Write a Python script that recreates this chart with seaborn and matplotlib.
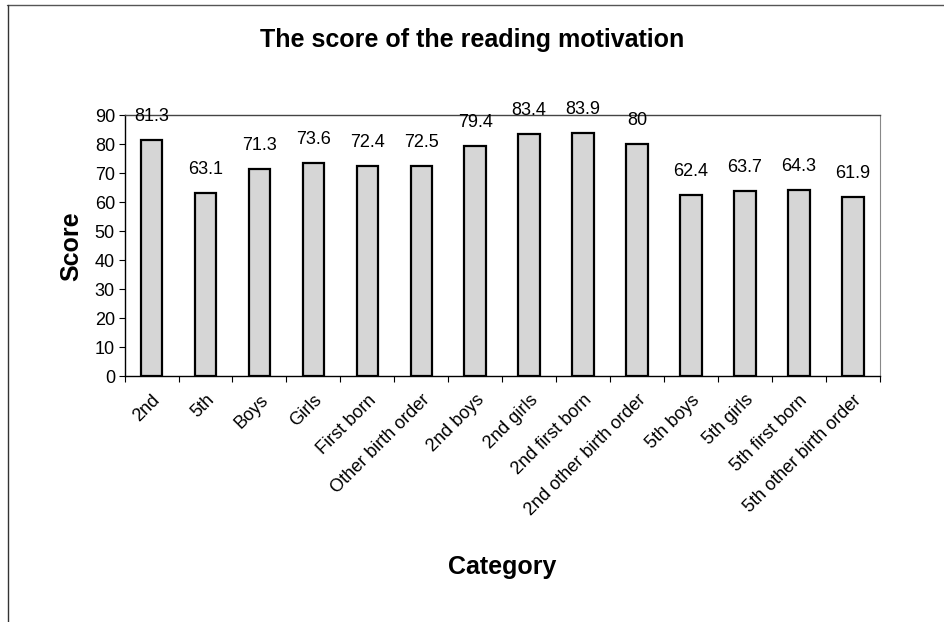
import numpy as np
import pandas as pd
import matplotlib
matplotlib.use('Agg')
import matplotlib.pyplot as plt
from matplotlib.lines import Line2D
import seaborn as sns

# Datos del gráfico
categories = ['2nd', '5th', 'Boys', 'Girls', 'First born', 'Other birth order',
              '2nd boys', '2nd girls', '2nd first born', '2nd other birth order',
              '5th boys', '5th girls', '5th first born', '5th other birth order']
scores = [81.3, 63.1, 71.3, 73.6, 72.4, 72.5, 79.4, 83.4, 83.9, 80,
          62.4, 63.7, 64.3, 61.9]
score_labels = ['81.3', '63.1', '71.3', '73.6', '72.4', '72.5', '79.4', '83.4',
                '83.9', '80', '62.4', '63.7', '64.3', '61.9']

df = pd.DataFrame({'Category': categories, 'Score': scores})

sns.set_style('white')
plt.rcParams['font.family'] = ['Liberation Sans', 'DejaVu Sans']
plt.rcParams['text.color'] = 'black'
plt.rcParams['xtick.color'] = 'black'
plt.rcParams['ytick.color'] = 'black'
plt.rcParams['axes.labelcolor'] = 'black'

fig = plt.figure(figsize=(9.44, 6.22), dpi=100)
# marco exterior (solo arriba e izquierda en la imagen escaneada)
fig.add_artist(Line2D([0.007, 1.0], [0.992, 0.992], transform=fig.transFigure,
                      color='#555555', linewidth=1))
fig.add_artist(Line2D([0.008, 0.008], [0.0, 0.992], transform=fig.transFigure,
                      color='#333333', linewidth=1))

ax = fig.add_axes([0.132, 0.395, 0.800, 0.42])

sns.barplot(data=df, x='Category', y='Score', color='#d6d6d6', edgecolor='black',
            linewidth=1.6, width=0.4, saturation=1, ax=ax)

for i, lab in enumerate(score_labels):
    ax.annotate(lab, (i, scores[i]), xytext=(0, 17), textcoords='offset points',
                ha='center', va='center', fontsize=13, annotation_clip=False)

ax.set_ylim(0, 90)
ax.set_xlim(-0.5, len(categories) - 0.5)
ax.set_yticks(range(0, 91, 10))
ax.tick_params(axis='y', labelsize=13, length=4, direction='out', left=True, width=0.8, pad=3)
ax.set_xticks(np.arange(len(categories)))
ax.set_xticklabels(categories, rotation=45, ha='right', rotation_mode='anchor', fontsize=13)
ax.tick_params(axis='x', length=0, pad=11)
# marcas entre categorías, estilo Excel
ax.set_xticks(np.arange(-0.5, len(categories), 1), minor=True)
ax.tick_params(axis='x', which='minor', length=4, direction='out', bottom=True, width=0.8)

for s in ['left', 'bottom']:
    ax.spines[s].set_color('black')
    ax.spines[s].set_linewidth(1)
ax.spines['top'].set_color('#444444')
ax.spines['top'].set_linewidth(1)
ax.spines['right'].set_color('#888888')
ax.spines['right'].set_linewidth(0.8)

ax.set_ylabel('Score', fontsize=18, fontweight='bold', labelpad=8)
ax.set_xlabel('Category', fontsize=18, fontweight='bold', labelpad=26)
fig.text(0.5, 0.935, 'The score of the reading motivation', ha='center', va='center',
         fontsize=18, fontweight='bold')

fig.savefig('out.png', dpi=100)
plt.close(fig)
